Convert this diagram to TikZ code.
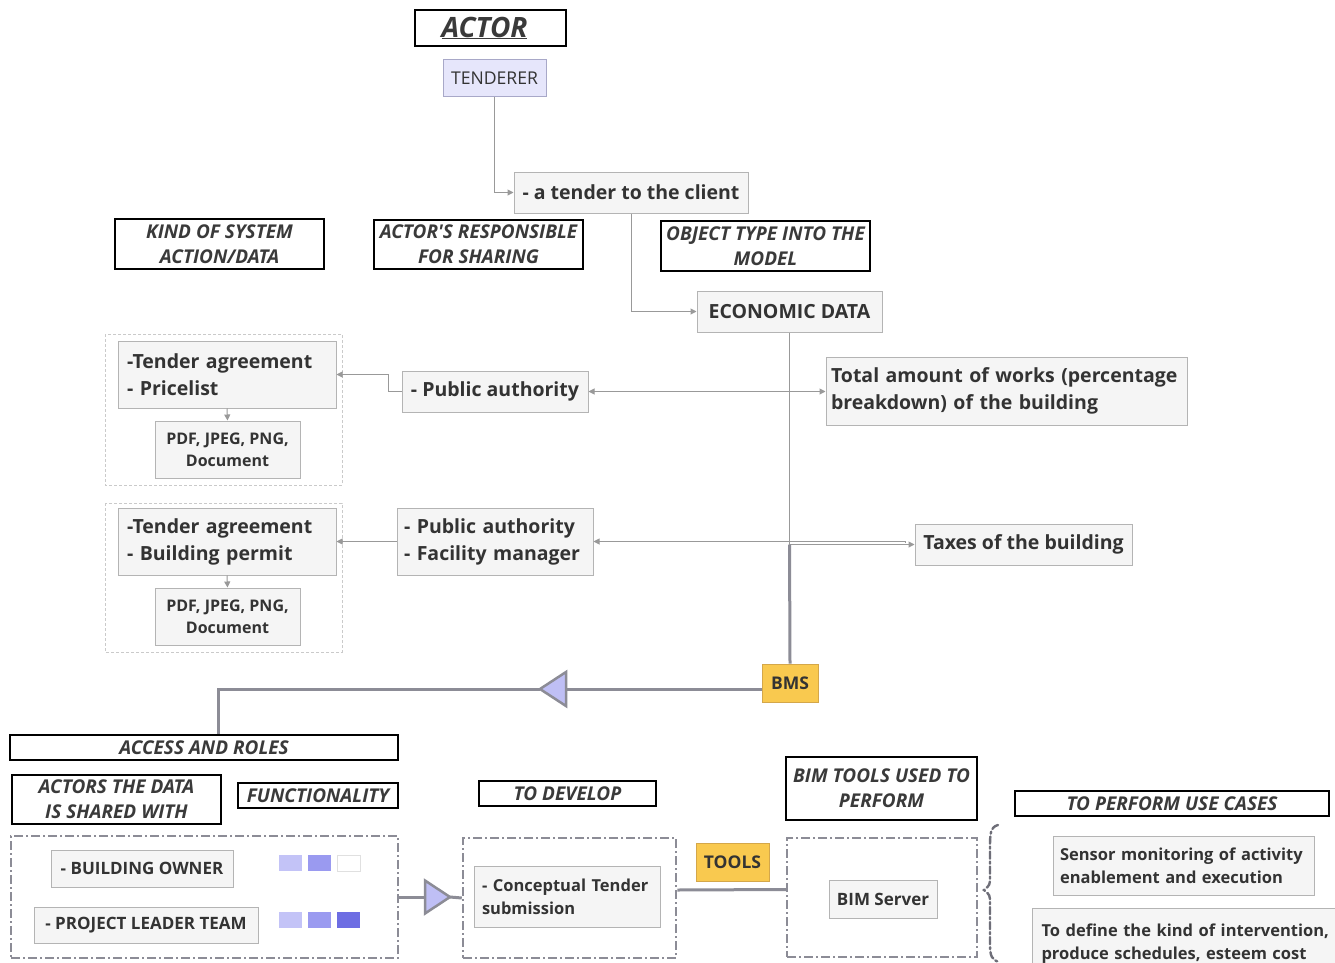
\documentclass[tikz,border=0pt]{standalone}
\usepackage{fontspec}
\setmainfont{Open Sans}
\usetikzlibrary{arrows.meta}

\definecolor{txt}{HTML}{333333}
\definecolor{hdrtxt}{HTML}{3A3A3A}
\definecolor{boxfill}{HTML}{F5F5F5}
\definecolor{boxline}{HTML}{B4B4B4}
\definecolor{connc}{HTML}{999999}
\definecolor{trunkc}{HTML}{8C8C96}
\definecolor{bracec}{HTML}{6E6E78}
\definecolor{grpc}{HTML}{CACACA}
\definecolor{goldc}{HTML}{F9C94F}
\definecolor{goldb}{HTML}{D4A74A}
\definecolor{lav}{HTML}{E6E6FB}
\definecolor{lavb}{HTML}{A8A8C8}
\definecolor{trifill}{HTML}{BFBFF5}
\definecolor{sqlight}{HTML}{C3C3F7}
\definecolor{sqmid}{HTML}{9A9AF0}
\definecolor{sqdark}{HTML}{6D6DE3}

\tikzset{
  >={Triangle[width=6pt,length=6pt]},
  box/.style={draw=boxline, fill=boxfill, line width=1pt, text=txt, inner sep=0pt,
    font=\bfseries\fontsize{19.5}{27}\selectfont},
  smallbox/.style={box, align=center, font=\bfseries\fontsize{16}{22}\selectfont},
  midbox/.style={box, font=\bfseries\fontsize{17}{23}\selectfont},
  notebox/.style={box, font=\bfseries\fontsize{16.5}{23}\selectfont},
  hdr/.style={draw=black, line width=1.6pt, fill=white, text=hdrtxt, inner sep=0pt,
    align=center, font=\bfseries\itshape\fontsize{19}{25}\selectfont},
  goldbox/.style={box, fill=goldc, draw=goldb, font=\bfseries\fontsize{17.5}{20}\selectfont},
  conn/.style={draw=connc, line width=1pt},
  trunk/.style={draw=trunkc, line width=3pt},
  ddbox/.style={draw=trunkc, line width=2.5pt, dash pattern=on 9pt off 3pt on 2pt off 3pt,
    inner sep=0pt},
  grp/.style={draw=grpc, line width=0.7pt, dash pattern=on 3pt off 2pt},
  tri/.style={draw=trunkc, fill=trifill, line width=2.5pt, line join=miter},
  sq/.style={minimum width=23pt, minimum height=16pt, inner sep=0pt},
}

\begin{document}
\begin{tikzpicture}[x=1pt,y=-1pt]
\useasboundingbox[fill=white] (0,0) rectangle (1335,963);

% ---- actor ----
\node[hdr, minimum width=151pt, minimum height=36pt,
      font=\bfseries\itshape\fontsize{28}{32}\selectfont] (actor) at (490.5,28) {\underline{ACTOR}\hspace*{12pt}};
\node[box, fill=lav, draw=lavb, font=\fontsize{17.6}{20}\selectfont,
      minimum width=103pt, minimum height=37pt] (tenderer) at (494.5,78.5) {TENDERER};
\node[box, minimum width=234pt, minimum height=41pt] (tender) at (631,192.5) {- a tender to the client};

% ---- column headers ----
\node[hdr, minimum width=209pt, minimum height=50pt] (hkind) at (219.5,244) {KIND OF SYSTEM\\ACTION/DATA};
\node[hdr, minimum width=209pt, minimum height=49pt] (hresp) at (478.5,244.5) {ACTOR\textquotesingle S RESPONSIBLE\\FOR SHARING};
\node[hdr, minimum width=209pt, minimum height=50pt] (hobj) at (765.5,246) {OBJECT TYPE INTO THE\\MODEL};

\node[box, minimum width=185pt, minimum height=41pt] (econ) at (789.5,311.5) {ECONOMIC DATA};

% ---- first data row ----
\draw[grp] (105,334) rectangle (342,485);
\node[box, align=left, text width=200pt, minimum width=218pt, minimum height=67pt] (ta1) at (227,374.5)
  {-Tender agreement\\- Pricelist};
\node[smallbox, minimum width=145pt, minimum height=57pt] (fmt1) at (227.5,449.5) {PDF, JPEG, PNG,\\Document};
\node[box, minimum width=186pt, minimum height=41pt] (pa1) at (495,391.5) {- Public authority};
\node[box, align=left, text width=351pt, minimum width=361pt, minimum height=68pt] (total) at (1006.5,391)
  {Total amount of works (percentage\\breakdown) of the building};

% ---- second data row ----
\draw[grp] (105,503) rectangle (342,652);
\node[box, align=left, text width=200pt, minimum width=218pt, minimum height=67pt] (ta2) at (227,541.5)
  {-Tender agreement\\- Building permit};
\node[smallbox, minimum width=145pt, minimum height=57pt] (fmt2) at (227.5,616.5) {PDF, JPEG, PNG,\\Document};
\node[box, align=left, text width=182pt, minimum width=196pt, minimum height=67pt] (pa2) at (495,541.5)
  {- Public authority\\- Facility manager};
\node[box, minimum width=217pt, minimum height=41pt] (taxes) at (1023.5,544.5) {Taxes of the building};

\node[goldbox, minimum width=56pt, minimum height=38pt] (bms) at (790,683) {BMS};

% ---- thin connectors ----
\draw[conn,->] (tenderer.south) |- (tender.west);
\draw[conn,->] (tender.south) |- (econ.west);
\coordinate (hub) at (econ.south |- taxes.west);
\coordinate (jog) at (905,542);
\draw[conn] (econ.south) -- (hub);
\draw[conn,<->] (pa1.east) -- (pa1.east -| total.west);
\draw[conn,->] (pa1.west) -- ++(-13,0) |- (ta1.east);
\draw[conn,->] (ta1.south) -- (fmt1.north);
\draw[conn,->] (jog) -- (pa2.east -| jog) -- (pa2.east);
\draw[conn,->] (hub) -- (taxes.west);
\draw[conn,->] (pa2.west) -- (ta2.east);
\draw[conn,->] (ta2.south) -- (fmt2.north);

% ---- trunk to access and roles ----
\coordinate (t1tip) at (540,689);
\coordinate (t1base) at (566,689);
\coordinate (acctop) at (218,735);
\draw[trunk] (hub) -- (bms.north);
\draw[trunk] (bms.west |- t1base) -- (t1base);
\draw[trunk] (t1tip) -| (acctop);
\draw[tri] (t1tip) -- ++(26,-17) -- ++(0,34) -- cycle;

\node[hdr, minimum width=388pt, minimum height=25pt] (access) at (204,747.5) {ACCESS AND ROLES};
\node[hdr, minimum width=209pt, minimum height=49pt] (hactors) at (116.5,799.5) {ACTORS THE DATA\\IS SHARED WITH};
\node[hdr, minimum width=160pt, minimum height=25pt] (hfunc) at (318,795.5) {FUNCTIONALITY};
\node[hdr, minimum width=177pt, minimum height=25pt] (hdev) at (567.5,793.5) {TO DEVELOP};
\node[hdr, minimum width=191pt, minimum height=63pt] (hbim) at (881.5,788.5) {BIM TOOLS USED TO\\PERFORM};
\node[hdr, minimum width=314pt, minimum height=25pt] (huse) at (1172,803.5) {TO PERFORM USE CASES};

% ---- roles ----
\node[ddbox, minimum width=387pt, minimum height=122pt] (roles) at (204.5,897) {};
\node[midbox, minimum width=182pt, minimum height=37pt] (owner) at (142,868.5) {- BUILDING OWNER};
\node[midbox, minimum width=224pt, minimum height=36pt] (leader) at (146,925) {- PROJECT LEADER TEAM};
\node[sq, fill=sqlight] (o1) at (290.5,863) {};
\node[sq, fill=sqmid]   (o2) at (319.5,863) {};
\node[sq, fill=white, draw=black!12, line width=0.8pt] (o3) at (348.5,863) {};
\node[sq, fill=sqlight] (l1) at (290.5,920) {};
\node[sq, fill=sqmid]   (l2) at (319.5,920) {};
\node[sq, fill=sqdark]  (l3) at (348.5,920) {};

% ---- develop ----
\node[ddbox, minimum width=213pt, minimum height=120pt] (dev) at (569.5,898) {};
\node[notebox, align=left, text width=170pt, minimum width=186pt, minimum height=61pt] (concept) at (567,896.5)
  {- Conceptual Tender\\submission};
\coordinate (t2base) at (425,897);
\coordinate (t2tip) at (450,897);
\draw[trunk] (roles.east) -- (t2base);
\draw[trunk] (t2tip) -- (dev.west);
\draw[tri] (t2tip) -- ++(-25,-16.5) -- ++(0,33) -- cycle;

% ---- tools ----
\node[goldbox, minimum width=73pt, minimum height=38pt] (tools) at (732.5,862) {TOOLS};
\node[ddbox, minimum width=190pt, minimum height=119pt] (bimbox) at (882,897.5) {};
\node[midbox, minimum width=108pt, minimum height=38pt] (bimserver) at (883,899) {BIM Server};
\draw[trunk] ([yshift=8pt]dev.east) -- ([yshift=8pt]bimbox.west);

% ---- use cases ----
\draw[draw=bracec, line width=2.4pt, dash pattern=on 7pt off 3pt on 2pt off 3pt, line cap=round]
  (998,825) .. controls (990,827) and (990,835) .. (990,848) -- (990,876)
  .. controls (990,885) .. (984,890) .. controls (990,895) .. (990,904)
  -- (990,945) .. controls (990,956) and (992,960) .. (999,962);
\node[notebox, align=left, text width=247pt, minimum width=261pt, minimum height=59pt] (sensor) at (1183.5,865.5)
  {Sensor monitoring of activity\\enablement and execution};
\node[notebox, align=left, text width=310pt, minimum width=328pt, minimum height=70pt, anchor=north west] (define) at (1032,908)
  {To define the kind of intervention,\\produce schedules, esteem cost\\[20pt]};
\end{tikzpicture}
\end{document}
